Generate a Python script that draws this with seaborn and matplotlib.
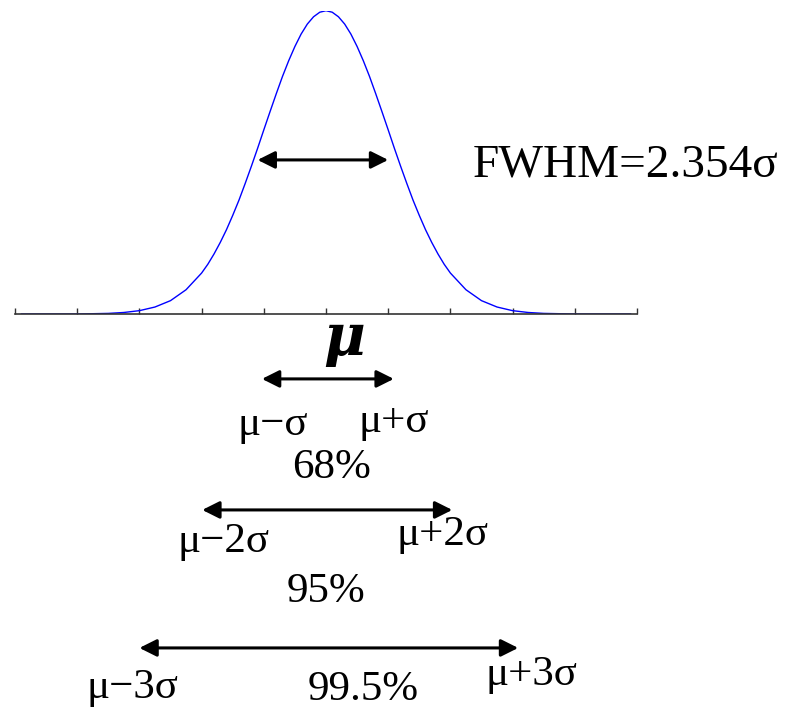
import numpy as np
import pandas as pd
import matplotlib
matplotlib.use("Agg")
import matplotlib.pyplot as plt
import seaborn as sns

# Normal curve heights (relative to peak) at offsets from the mean, in units of sigma.
offset_sigma = [0.0, 0.1, 0.2, 0.3, 0.4, 0.5, 0.6, 0.7, 0.8, 0.9, 1.0,
                1.1, 1.2, 1.3, 1.4, 1.5, 1.6, 1.7, 1.8, 1.9, 2.0,
                2.25, 2.5, 2.75, 3.0, 3.25, 3.5, 3.75, 4.0, 4.5, 4.9]
height = [1.000, 0.995, 0.980, 0.956, 0.923, 0.882, 0.835, 0.783, 0.726, 0.667, 0.607,
          0.546, 0.487, 0.430, 0.375, 0.325, 0.278, 0.236, 0.198, 0.164, 0.135,
          0.080, 0.044, 0.023, 0.011, 0.005, 0.002, 0.001, 0.000, 0.000, 0.000]

tick_sigma = list(range(-5, 6))

# Interval arrows: (left end, right end, height) in sigma / data units
fwhm_arrow = (-1.1, 1.0, 0.508)
sigma_arrows = [(-1.03, 1.09, -0.214),
                (-1.99, 2.03, -0.646),
                (-3.0, 3.09, -1.101)]

# Labels: (text, x, y)
range_labels = [("μ−σ", -0.85, -0.399), ("μ+σ", 1.085, -0.389), ("68%", 0.09, -0.541),
                ("μ−2σ", -1.64, -0.785), ("μ+2σ", 1.865, -0.762), ("95%", 0.0, -0.95),
                ("μ−3σ", -3.11, -1.266), ("99.5%", 0.595, -1.273), ("μ+3σ", 3.31, -1.223)]
fwhm_label = ("FWHM=2.354σ", 2.36, 0.452)
mean_label = ("μ", 0.29, -0.135)

# Mirror the half-curve to get the full symmetric profile
half = pd.DataFrame({"x": offset_sigma, "y": height})
curve = pd.concat([half.iloc[::-1].assign(x=lambda d: -d["x"]), half.iloc[1:]],
                  ignore_index=True)

sns.set_theme(style="white")
plt.rcParams["font.family"] = ["Liberation Serif", "DejaVu Serif"]

fig = plt.figure(figsize=(7.9, 7.2), dpi=100)
ax = fig.add_axes([15 / 790, 1 - 314 / 720, 622 / 790, (314 - 10.7) / 720])

sns.lineplot(data=curve, x="x", y="y", ax=ax, color="#0000ff", linewidth=1.0,
             sort=False, estimator=None)

ax.set_xlim(-5, 5)
ax.set_ylim(0, 1)
ax.set_xticks(tick_sigma)
ax.set_xticklabels([])
ax.set_yticks([])
ax.set_xlabel("")
ax.set_ylabel("")
for side in ("left", "top", "right"):
    ax.spines[side].set_visible(False)
ax.spines["bottom"].set_color("#333333")
ax.spines["bottom"].set_linewidth(1.2)
ax.tick_params(axis="x", direction="in", length=4, width=1, color="#333333",
               bottom=True, pad=0)
ax.patch.set_alpha(0)

arrow_style = dict(arrowstyle="<|-|>", color="black", lw=2.2,
                   mutation_scale=26, shrinkA=0, shrinkB=0)

x0, x1, y = fwhm_arrow
ax.annotate("", xy=(x1, y), xytext=(x0, y), arrowprops=arrow_style,
            annotation_clip=False)
for x0, x1, y in sigma_arrows:
    ax.annotate("", xy=(x1, y), xytext=(x0, y), arrowprops=arrow_style,
                annotation_clip=False)

for text, x, y in range_labels:
    ax.text(x, y, text, ha="center", va="baseline", fontsize=31,
            color="black", clip_on=False)

ax.text(fwhm_label[1], fwhm_label[2], fwhm_label[0], ha="left", va="baseline",
        fontsize=34, color="black", clip_on=False)
ax.text(mean_label[1], mean_label[2], mean_label[0], ha="center", va="baseline",
        fontsize=41, fontweight="bold", fontstyle="italic", color="black",
        family=["DejaVu Serif"], clip_on=False)

fig.savefig("out.png", dpi=100, facecolor="white")
